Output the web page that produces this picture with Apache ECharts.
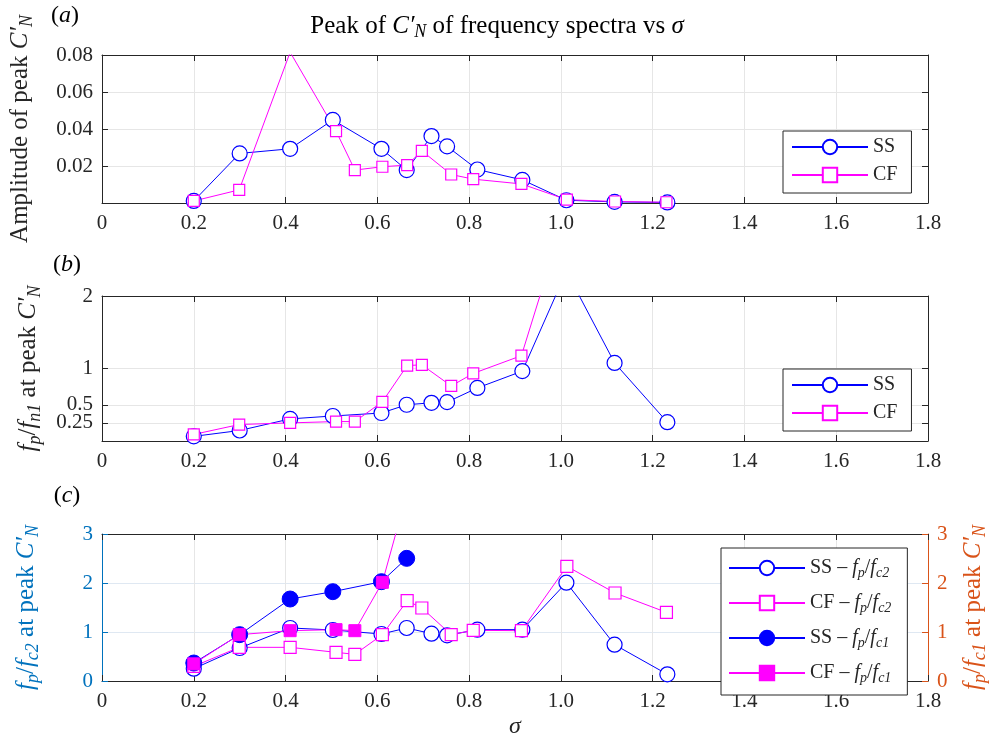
<!DOCTYPE html>
<html>
<head>
<meta charset="utf-8">
<script src="https://cdn.jsdelivr.net/npm/echarts@6/dist/echarts.min.js"></script>
<style>
  html, body { margin: 0; padding: 0; background: #fff; }
  #chart { width: 995px; height: 742px; }
</style>
</head>
<body>
<div id="chart"></div>
<script>
// peak of C'N vs sigma — three stacked panels (a) amplitude, (b) fp/fn1, (c) fp/fc2 + fp/fc1

const sigmaSS = [0.2, 0.3, 0.41, 0.503, 0.609, 0.664, 0.718, 0.752, 0.818, 0.916, 1.012, 1.117, 1.232];
const sigmaCF = [0.2, 0.299, 0.41, 0.51, 0.551, 0.611, 0.665, 0.697, 0.761, 0.809, 0.914, 1.013, 1.118, 1.23];

// (a) amplitude of peak
const ampSS = [0.0011, 0.0268, 0.0293, 0.0449, 0.0293, 0.0178, 0.0362, 0.0306, 0.0181, 0.0125, 0.0015, 0.0006, 0.0003];
const ampCF = [0.0011, 0.0071, 0.0815, 0.0389, 0.0178, 0.0196, 0.0205, 0.0282, 0.0154, 0.0129, 0.0103, 0.0018, 0.0008, 0.0004];

// (b) fp/fn1
const fnSS = [0.064, 0.145, 0.305, 0.345, 0.386, 0.50, 0.527, 0.536, 0.732, 0.964, 2.34, 1.077, 0.259];
const fnCF = [0.091, 0.227, 0.25, 0.268, 0.268, 0.541, 1.041, 1.05, 0.759, 0.932, 1.177, 3.2, 2.6, 3.0];
const fnTicks = [0.25, 0.5, 1, 2];

// (c) fp/fc2 and fp/fc1
const fc2SS = [0.252, 0.673, 1.082, 1.041, 0.959, 1.082, 0.966, 0.932, 1.048, 1.048, 2.007, 0.741, 0.136];
const fc2CF = [0.30, 0.687, 0.687, 0.585, 0.544, 0.946, 1.639, 1.49, 0.946, 1.034, 1.027, 2.34, 1.796, 1.401];
const fc1SS = [0.367, 0.946, 1.673, 1.823, 2.027, 2.503];
const fc1CF = [0.35, 0.946, 1.027, 1.048, 1.027, 2.014, 3.85];

const FONT = 'Liberation Serif';
const INK = '#262626';
const BLUE = '#0000ff';
const MAGENTA = '#ff00ff';
const AX_BLUE = '#0072bd';
const AX_ORANGE = '#d95319';
const TICK_FS = 21;
const NAME_FS = 25;

function pairs(xs, ys) {
  return ys.map((y, i) => [xs[i], y]);
}

function richFor(size) {
  return {
    r: { fontFamily: FONT, fontSize: size },
    i: { fontFamily: FONT, fontSize: size, fontStyle: 'italic' },
    s: { fontFamily: FONT, fontSize: Math.round(size * 0.7), fontStyle: 'italic', padding: [Math.round(size * 0.5), 0, 0, 0] }
  };
}

const grids = [
  { left: 102, right: 67, top: 55, height: 148 },
  { left: 102, right: 67, top: 296, height: 145 },
  { left: 102, right: 67, top: 534, height: 147 }
].map(g => ({ ...g, outerBoundsMode: 'none' }));

function xBottom(gi, name) {
  return {
    type: 'value', gridIndex: gi, min: 0, max: 1.8, interval: 0.2,
    axisLine: { show: true, onZero: false, lineStyle: { color: INK, width: 1 } },
    axisTick: { show: true, inside: true, length: 6, lineStyle: { color: INK } },
    axisLabel: {
      color: INK, fontFamily: FONT, fontSize: TICK_FS, margin: 10,
      formatter: v => (v === 0 ? '0' : v.toFixed(1))
    },
    splitLine: { show: true, lineStyle: { color: '#e6e6e6', width: 1 } },
    name: name || '',
    nameLocation: 'middle', nameGap: 34,
    nameTextStyle: { fontFamily: FONT, fontSize: 24, fontStyle: 'italic', color: INK },
    nameMoveOverlap: false
  };
}

function xTop(gi) {
  return {
    type: 'value', gridIndex: gi, position: 'top', min: 0, max: 1.8, interval: 0.2,
    axisLine: { show: true, onZero: false, lineStyle: { color: INK, width: 1 } },
    axisTick: { show: true, inside: true, length: 6, lineStyle: { color: INK } },
    axisLabel: { show: false },
    splitLine: { show: false }
  };
}

function yMirror(gi, base) {
  return {
    ...base,
    gridIndex: gi, position: 'right',
    axisLine: { show: true, onZero: false, lineStyle: { color: INK, width: 1 } },
    axisTick: { ...base.axisTick, show: true, inside: true, length: 6, lineStyle: { color: INK } },
    axisLabel: { show: false },
    splitLine: { show: false },
    name: ''
  };
}

const yA = {
  type: 'value', gridIndex: 0, min: 0, max: 0.08, interval: 0.02,
  axisLine: { show: true, onZero: false, lineStyle: { color: INK, width: 1 } },
  axisTick: { show: true, inside: true, length: 6, lineStyle: { color: INK } },
  axisLabel: {
    color: INK, fontFamily: FONT, fontSize: TICK_FS, margin: 9,
    formatter: v => (v === 0 ? '' : v.toFixed(2))
  },
  splitLine: { show: true, lineStyle: { color: '#e6e6e6' } },
  name: 'Amplitude of peak {i|C′}{s|N}',
  nameLocation: 'middle', nameRotate: 90, nameGap: 66, nameMoveOverlap: false,
  nameTextStyle: { fontFamily: FONT, fontSize: NAME_FS, color: INK, rich: richFor(NAME_FS) }
};

// (b) ticks 0.25 and 0.5 sit too close for one axis to keep both labels,
// so the odd ones go on a bare twin axis
const yB = {
  type: 'value', gridIndex: 1, min: 0, max: 2,
  axisLine: { show: true, onZero: false, lineStyle: { color: INK, width: 1 } },
  axisTick: { show: true, inside: true, length: 6, lineStyle: { color: INK }, customValues: [0].concat(fnTicks) },
  axisLabel: {
    color: INK, fontFamily: FONT, fontSize: TICK_FS, margin: 9,
    customValues: fnTicks.filter((v, i) => i % 2 === 1),
    formatter: v => String(v)
  },
  splitLine: { show: true, lineStyle: { color: '#e6e6e6' } },
  name: '{i|f}{s|p}{r|/}{i|f}{s|n1}{r| at peak }{i|C′}{s|N}',
  nameLocation: 'middle', nameRotate: 90, nameGap: 58, nameMoveOverlap: false,
  nameTextStyle: { fontFamily: FONT, fontSize: NAME_FS, color: INK, rich: richFor(NAME_FS) }
};

const yBTwin = {
  type: 'value', gridIndex: 1, position: 'left', offset: 0, min: 0, max: 2,
  axisLine: { show: false },
  axisTick: { show: false, customValues: fnTicks.filter((v, i) => i % 2 === 0) },
  axisLabel: {
    color: INK, fontFamily: FONT, fontSize: TICK_FS, margin: 9,
    customValues: fnTicks.filter((v, i) => i % 2 === 0),
    formatter: v => String(v)
  },
  splitLine: { show: false }
};

const yC = {
  type: 'value', gridIndex: 2, min: 0, max: 3, interval: 1,
  axisLine: { show: true, onZero: false, lineStyle: { color: AX_BLUE, width: 1 } },
  axisTick: { show: true, inside: true, length: 6, lineStyle: { color: AX_BLUE } },
  axisLabel: { color: AX_BLUE, fontFamily: FONT, fontSize: TICK_FS, margin: 9 },
  splitLine: { show: true, lineStyle: { color: '#dfe8f2' } },
  name: '{i|f}{s|p}{r|/}{i|f}{s|c2}{r| at peak }{i|C′}{s|N}',
  nameLocation: 'middle', nameRotate: 90, nameGap: 60, nameMoveOverlap: false,
  nameTextStyle: { fontFamily: FONT, fontSize: NAME_FS, color: AX_BLUE, rich: richFor(NAME_FS) }
};

const yCRight = {
  type: 'value', gridIndex: 2, position: 'right', min: 0, max: 3, interval: 1,
  axisLine: { show: true, onZero: false, lineStyle: { color: AX_ORANGE, width: 1 } },
  axisTick: { show: true, inside: true, length: 6, lineStyle: { color: AX_ORANGE } },
  axisLabel: { color: AX_ORANGE, fontFamily: FONT, fontSize: TICK_FS, margin: 9 },
  splitLine: { show: false },
  name: '{i|f}{s|p}{r|/}{i|f}{s|c1}{r| at peak }{i|C′}{s|N}',
  nameLocation: 'middle', nameRotate: 90, nameGap: 30, nameMoveOverlap: false,
  nameTextStyle: { fontFamily: FONT, fontSize: NAME_FS, color: AX_ORANGE, rich: richFor(NAME_FS) }
};

function ser(name, xi, yi, data, symbol, size, color, filled) {
  return {
    type: 'line', name, xAxisIndex: xi, yAxisIndex: yi, data,
    symbol, symbolSize: size, showSymbol: true, clip: true,
    lineStyle: { color, width: 1 },
    itemStyle: filled
      ? { color, borderColor: color, borderWidth: 1 }
      : { color: '#fff', borderColor: color, borderWidth: 1.2 },
    emphasis: { disabled: true },
    z: 3
  };
}

const legendText = {
  'SS': 'SS',
  'CF': 'CF',
  'SS (b)': 'SS',
  'CF (b)': 'CF',
  'SS-fc2': 'SS – {i|f}{s|p}/{i|f}{s|c2}',
  'CF-fc2': 'CF – {i|f}{s|p}/{i|f}{s|c2}',
  'SS-fc1': 'SS – {i|f}{s|p}/{i|f}{s|c1}',
  'CF-fc1': 'CF – {i|f}{s|p}/{i|f}{s|c1}'
};

function legendBox(data, left, top, pad, gap) {
  return {
    data, left, top, orient: 'vertical', padding: pad, itemGap: gap,
    itemWidth: 76, itemHeight: 18,
    backgroundColor: '#fff', borderColor: INK, borderWidth: 1, borderRadius: 0,
    selectedMode: false,
    textStyle: { color: INK, fontFamily: FONT, fontSize: 20, rich: richFor(20) },
    formatter: n => legendText[n] || n
  };
}

function panelLabel(letter, x, y) {
  return {
    type: 'text', x, y,
    style: {
      text: '({i|' + letter + '})', rich: richFor(24), fontFamily: FONT, fontSize: 24,
      fill: '#000', align: 'center', verticalAlign: 'middle'
    }
  };
}

const chart = echarts.init(document.getElementById('chart'));

chart.setOption({
  animation: false,
  backgroundColor: '#fff',
  grid: grids,
  xAxis: [xBottom(0), xTop(0), xBottom(1), xTop(1), xBottom(2, 'σ'), xTop(2)],
  yAxis: [yA, yMirror(0, yA), yB, yMirror(1, yB), yC, yCRight, yBTwin],
  legend: [
    legendBox(['SS', 'CF'], 783, 131, [6, 14, 8, 8], 8),
    legendBox(['SS (b)', 'CF (b)'], 783, 369, [6, 14, 8, 8], 8),
    legendBox(['SS-fc2', 'CF-fc2', 'SS-fc1', 'CF-fc1'], 721, 548, [10, 16, 10, 7], 13)
  ],
  graphic: [
    {
      type: 'text', x: 497, y: 26,
      style: {
        text: 'Peak of {i|C′}{s|N} of frequency spectra vs {i|σ}',
        rich: richFor(NAME_FS), fontFamily: FONT, fontSize: NAME_FS, fill: '#000',
        align: 'center', verticalAlign: 'middle'
      }
    },
    panelLabel('a', 65, 16),
    panelLabel('b', 67, 265),
    panelLabel('c', 67, 496)
  ],
  series: [
    ser('SS', 0, 0, pairs(sigmaSS, ampSS), 'circle', 15, BLUE, false),
    ser('CF', 0, 0, pairs(sigmaCF, ampCF), 'rect', 11, MAGENTA, false),
    ser('SS (b)', 2, 2, pairs(sigmaSS, fnSS), 'circle', 15, BLUE, false),
    ser('CF (b)', 2, 2, pairs(sigmaCF, fnCF), 'rect', 11, MAGENTA, false),
    ser('SS-fc2', 4, 4, pairs(sigmaSS, fc2SS), 'circle', 15, BLUE, false),
    ser('CF-fc2', 4, 4, pairs(sigmaCF, fc2CF), 'rect', 12, MAGENTA, false),
    ser('SS-fc1', 4, 5, pairs(sigmaSS, fc1SS), 'circle', 16, BLUE, true),
    ser('CF-fc1', 4, 5, pairs(sigmaCF, fc1CF), 'rect', 12, MAGENTA, true)
  ]
});
</script>
</body>
</html>
